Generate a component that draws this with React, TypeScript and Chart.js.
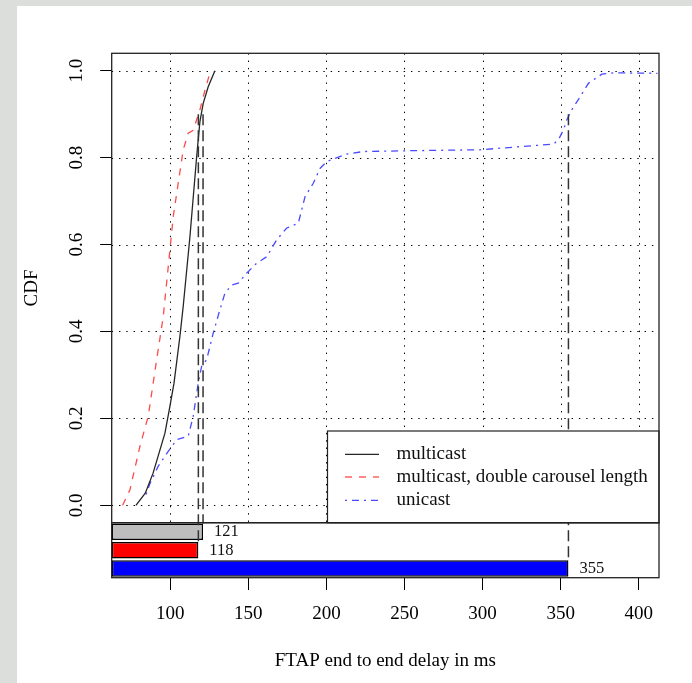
import React, { useEffect, useRef } from 'react';
import { Chart, registerables } from 'chart.js';

Chart.register(...registerables);

// ---------------- data ----------------
const X_TICKS = [100, 150, 200, 250, 300, 350, 400];
const Y_TICKS = [0, 0.2, 0.4, 0.6, 0.8, 1.0];
const X_MIN = 62.5;
const X_MAX = 413;
const Y_MIN = -0.04;
const Y_MAX = 1.04;

const SERIES_NAMES = ['multicast', 'multicast, double carousel length', 'unicast'];

const MULTICAST_X = [78, 84, 89, 96.6, 99.8, 102.4, 106.2, 108.3, 112.6, 116.9, 119, 121.1, 124.3, 128.6];
const MULTICAST_Y = [0, 0.028, 0.074, 0.166, 0.228, 0.281, 0.389, 0.458, 0.618, 0.802, 0.883, 0.925, 0.963, 1.0];

const DOUBLE_X = [69.5, 74.2, 80.6, 85.9, 91.3, 95.5, 99.8, 101.9, 105.1, 108.3, 111.5, 114.7, 119, 122.2, 125.8];
const DOUBLE_Y = [0, 0.036, 0.136, 0.205, 0.335, 0.434, 0.588, 0.664, 0.741, 0.818, 0.856, 0.863, 0.91, 0.955, 1.0];

const UNICAST_X = [84.5, 87, 92.3, 98.7, 104.1, 111.5, 114.7, 117.9, 120.1, 123.3, 127.5, 131.8, 135, 139.3, 143.5, 148.9, 155.3, 161.8, 168.2, 174.6, 182, 186.3, 191.6, 195.9, 200.2, 213, 223.6, 255.7, 298.4, 319.7, 345.4, 348.6, 351.8, 354, 357.1, 362.5, 367.8, 376.4, 383.8, 412];
const UNICAST_Y = [0.025, 0.05, 0.09, 0.124, 0.151, 0.159, 0.205, 0.281, 0.32, 0.335, 0.396, 0.45, 0.488, 0.507, 0.511, 0.534, 0.557, 0.572, 0.611, 0.638, 0.649, 0.71, 0.741, 0.775, 0.791, 0.808, 0.814, 0.816, 0.818, 0.824, 0.831, 0.841, 0.864, 0.887, 0.91, 0.94, 0.971, 0.992, 0.995, 0.994];

const QUANTILE_LEVEL = 0.9;
const BAR_VALUES = [121, 118, 355];

// ---------------- styles ----------------
const FONT = "'Liberation Serif', 'DejaVu Serif', serif";
const LINE_COLORS = ['#262626', '#ff4a4a', '#4a4aff'];
const LINE_DASHES: number[][] = [[], [7, 7], [2, 5, 7, 5]];
const BAR_COLORS = ['#bebebe', '#ff0000', '#0000ff'];

const W = 692;
const H = 683;
const PLOT_LEFT = 111.7;
const PLOT_RIGHT = 659;
const PLOT_TOP = 53.3;
const MAIN_BOTTOM = 522.7;
const BAR_BOTTOM = 577.7;
const LEGEND_LEFT = 327.5;
const LEGEND_TOP = 431;

const toPoints = (xs: number[], ys: number[]) => xs.map((x, i) => ({ x, y: ys[i] }));

const bgPlugin = {
  id: 'bgPlugin',
  beforeDraw(chart: any) {
    const ctx = chart.ctx;
    ctx.save();
    ctx.fillStyle = '#dcdedc';
    ctx.fillRect(0, 0, chart.width, chart.height);
    ctx.fillStyle = '#ffffff';
    ctx.fillRect(17, 6, chart.width - 17, chart.height - 6);
    ctx.restore();
  },
};

const gridPlugin = {
  id: 'gridPlugin',
  beforeDatasetsDraw(chart: any) {
    const ctx = chart.ctx;
    const xs = chart.scales.x;
    const ys = chart.scales.y;
    ctx.save();
    ctx.strokeStyle = '#000';
    ctx.lineWidth = 1;
    ctx.setLineDash([1.4, 5.9]);
    ctx.beginPath();
    X_TICKS.forEach((v) => {
      const px = Math.round(xs.getPixelForValue(v)) + 0.5;
      ctx.moveTo(px, ys.top);
      ctx.lineTo(px, ys.bottom);
    });
    Y_TICKS.forEach((v) => {
      const py = Math.round(ys.getPixelForValue(v)) + 0.5;
      ctx.moveTo(xs.left, py);
      ctx.lineTo(xs.right, py);
    });
    ctx.stroke();
    ctx.restore();
  },
};

const overlayPlugin = {
  id: 'overlayPlugin',
  afterDatasetsDraw(chart: any) {
    const ctx = chart.ctx;
    const xs = chart.scales.x;
    const ys = chart.scales.y;
    const yb = chart.scales.yb;
    const barMeta = chart.getDatasetMeta(3);
    ctx.save();

    // quantile lines
    ctx.strokeStyle = '#333';
    ctx.lineWidth = 1.5;
    ctx.setLineDash([11, 5]);
    BAR_VALUES.forEach((v, i) => {
      const bar = barMeta.data[i];
      const px = xs.getPixelForValue(v);
      ctx.beginPath();
      ctx.moveTo(px, ys.getPixelForValue(QUANTILE_LEVEL));
      ctx.lineTo(px, bar.y - bar.height / 2);
      ctx.stroke();
    });

    // legend
    ctx.setLineDash([]);
    ctx.fillStyle = '#fff';
    ctx.fillRect(LEGEND_LEFT, LEGEND_TOP, xs.right - LEGEND_LEFT, ys.bottom - LEGEND_TOP);
    ctx.strokeStyle = '#222';
    ctx.lineWidth = 1.2;
    ctx.strokeRect(LEGEND_LEFT, LEGEND_TOP, xs.right - LEGEND_LEFT, ys.bottom - LEGEND_TOP);
    const rows = [454.3, 477, 500.3];
    SERIES_NAMES.forEach((name, i) => {
      ctx.strokeStyle = LINE_COLORS[i];
      ctx.lineWidth = 1.3;
      ctx.setLineDash(LINE_DASHES[i]);
      ctx.beginPath();
      ctx.moveTo(LEGEND_LEFT + 17.5, rows[i]);
      ctx.lineTo(LEGEND_LEFT + 51.5, rows[i]);
      ctx.stroke();
      ctx.setLineDash([]);
      ctx.fillStyle = '#111';
      ctx.font = `19px ${FONT}`;
      ctx.textAlign = 'left';
      ctx.textBaseline = 'middle';
      ctx.fillText(name, LEGEND_LEFT + 69, rows[i]);
    });

    // frames
    ctx.strokeStyle = '#222';
    ctx.lineWidth = 1.3;
    ctx.strokeRect(xs.left, ys.top, xs.right - xs.left, ys.bottom - ys.top);
    ctx.strokeRect(xs.left, yb.top, xs.right - xs.left, yb.bottom - yb.top);

    // bar labels
    ctx.fillStyle = '#111';
    ctx.font = `16.5px ${FONT}`;
    ctx.textAlign = 'left';
    ctx.textBaseline = 'middle';
    BAR_VALUES.forEach((v, i) => {
      const bar = barMeta.data[i];
      ctx.fillText(String(v), bar.x + 11, bar.y);
    });
    ctx.restore();
  },
};

export default function App() {
  const ref = useRef<HTMLCanvasElement | null>(null);

  useEffect(() => {
    document.body.style.margin = '0';
    const canvas = ref.current;
    if (!canvas) return;
    Chart.defaults.font.family = FONT;
    Chart.defaults.color = '#000';

    const lineDs = (label: string, xs: number[], ys: number[], i: number) => ({
      type: 'line' as const,
      label,
      data: toPoints(xs, ys),
      xAxisID: 'x',
      yAxisID: 'y',
      borderColor: LINE_COLORS[i],
      borderWidth: 1.3,
      borderDash: LINE_DASHES[i],
      pointRadius: 0,
      fill: false,
      tension: 0,
    });

    const chart = new Chart(canvas, {
      type: 'line',
      data: {
        datasets: [
          lineDs(SERIES_NAMES[0], MULTICAST_X, MULTICAST_Y, 0),
          lineDs(SERIES_NAMES[1], DOUBLE_X, DOUBLE_Y, 1),
          lineDs(SERIES_NAMES[2], UNICAST_X, UNICAST_Y, 2),
          {
            type: 'bar' as const,
            label: '90% quantile',
            data: BAR_VALUES,
            indexAxis: 'y',
            xAxisID: 'x',
            yAxisID: 'yb',
            base: X_MIN,
            backgroundColor: BAR_COLORS,
            borderColor: '#000',
            borderWidth: 1.5,
            borderSkipped: false,
            barPercentage: 0.9,
            categoryPercentage: 1,
          } as any,
        ],
      },
      options: {
        animation: false,
        responsive: false,
        devicePixelRatio: 1,
        layout: { padding: { left: 0, top: PLOT_TOP, right: W - PLOT_RIGHT, bottom: 0 } },
        plugins: { legend: { display: false }, tooltip: { enabled: false } },
        scales: {
          yb: {
            type: 'category',
            labels: SERIES_NAMES,
            position: 'left',
            stack: 'left',
            stackWeight: BAR_BOTTOM - MAIN_BOTTOM,
            offset: true,
            afterFit: (s: any) => {
              s.width = PLOT_LEFT;
              s.paddingTop = 0;
              s.paddingBottom = 0;
            },
            grid: { display: false },
            border: { display: false },
            ticks: { display: false },
          },
          y: {
            type: 'linear',
            position: 'left',
            stack: 'left',
            stackWeight: MAIN_BOTTOM - PLOT_TOP,
            min: Y_MIN,
            max: Y_MAX,
            afterBuildTicks: (s: any) => {
              s.ticks = Y_TICKS.map((v) => ({ value: v }));
            },
            afterFit: (s: any) => {
              s.width = PLOT_LEFT;
              s.paddingTop = 0;
              s.paddingBottom = 0;
            },
            grid: { drawOnChartArea: false, drawTicks: true, tickLength: 11.5, color: '#000', lineWidth: 1 },
            border: { display: false },
            ticks: {
              font: { size: 19 },
              color: '#000',
              padding: 11,
              minRotation: 90,
              maxRotation: 90,
              crossAlign: 'center',
              callback: (v: any) => Number(v).toFixed(1),
            },
            title: { display: true, text: 'CDF', font: { size: 19 }, color: '#000', padding: { top: 20.5, bottom: 0 } },
          },
          x: {
            type: 'linear',
            position: 'bottom',
            min: X_MIN,
            max: X_MAX,
            afterBuildTicks: (s: any) => {
              s.ticks = X_TICKS.map((v) => ({ value: v }));
            },
            afterFit: (s: any) => {
              s.height = H - BAR_BOTTOM;
              s.paddingLeft = 0;
              s.paddingRight = 0;
            },
            grid: { drawOnChartArea: false, drawTicks: true, tickLength: 12.3, color: '#000', lineWidth: 1 },
            border: { display: false },
            ticks: { font: { size: 19 }, color: '#000', padding: 13, maxRotation: 0, autoSkip: false },
            title: {
              display: true,
              text: 'FTAP end to end delay in ms',
              font: { size: 19 },
              color: '#000',
              padding: { top: 0, bottom: 11 },
            },
          },
        },
      } as any,
      plugins: [bgPlugin, gridPlugin, overlayPlugin],
    });
    return () => chart.destroy();
  }, []);

  return (
    <div style={{ width: W, height: H }}>
      <canvas ref={ref} width={W} height={H} style={{ display: 'block', width: W, height: H }} />
    </div>
  );
}
